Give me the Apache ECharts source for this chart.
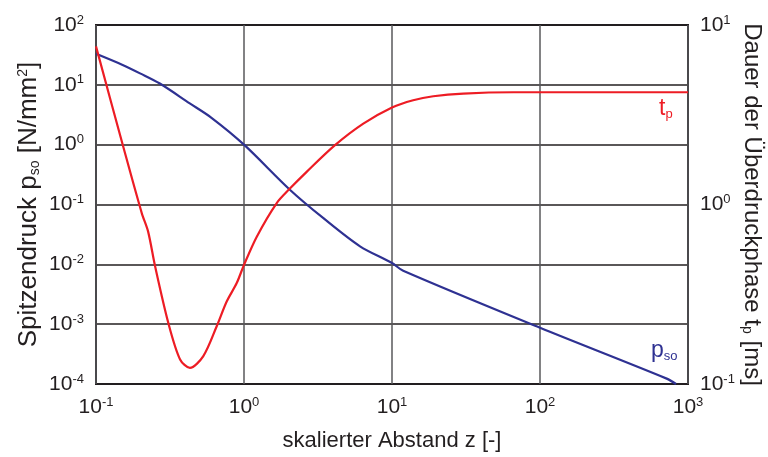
<!DOCTYPE html>
<html><head><meta charset="utf-8">
<script src="https://cdn.jsdelivr.net/npm/echarts@6/dist/echarts.min.js"></script>
<style>html,body{margin:0;padding:0;background:#fff}#c{width:768px;height:457px}</style>
</head><body><div id="c"></div>
<script>
// scaled distance z [-] and peak overpressure p_so [N/mm²]
const zP = [0.1, 0.15, 0.2, 0.27, 0.43, 0.6, 1, 2.05, 3.44, 6.08, 10, 11.9, 100, 718, 830];
const pVals = [33, 21.7, 15.4, 10.5, 4.9, 2.84, 1.0, 0.175, 0.059, 0.02, 0.0105, 0.0078, 0.00087, 0.000123, 0.0001];
// scaled distance z [-] and positive phase duration t_p [ms]
const zT = [0.1, 0.153, 0.204, 0.225, 0.251, 0.308, 0.37, 0.431, 0.531, 0.653, 0.764, 0.893, 1.0, 1.22, 1.66, 2.05, 2.65, 4.12, 6.4, 10, 13.9, 19, 30.3, 66, 1000];
const tVals = [7.6, 2.09, 0.893, 0.706, 0.451, 0.219, 0.137, 0.123, 0.143, 0.209, 0.288, 0.365, 0.461, 0.662, 1.016, 1.23, 1.52, 2.14, 2.82, 3.47, 3.81, 4.01, 4.15, 4.22, 4.22];

const FONT = 'Liberation Sans, Arial, sans-serif';
const TXT = '#231f20';
const expFmt = v => '{b|10}{s|' + Math.round(Math.log10(v)) + '}';
const richTick = {
  b: {fontSize: 21, fontFamily: FONT, color: TXT, lineHeight: 23},
  s: {fontSize: 13, fontFamily: FONT, color: TXT, verticalAlign: 'top', lineHeight: 13}
};
const mkRich = (fs, sfs) => ({
  n: {fontSize: fs, fontFamily: FONT, color: TXT},
  sub: {fontSize: sfs, fontFamily: FONT, color: TXT, verticalAlign: 'bottom', padding: [10, 0, 0, 0]},
  sup: {fontSize: sfs, fontFamily: FONT, color: TXT, verticalAlign: 'top', padding: [0, 0, 10, 0]}
});

const chart = echarts.init(document.getElementById('c'), null, {renderer: 'canvas'});
chart.setOption({
  animation: false,
  grid: {left: 96, right: 80, top: 25, bottom: 73, outerBoundsMode: 'none', containLabel: false,
         show: true, borderColor: '#231f20', borderWidth: 2, backgroundColor: 'transparent'},
  xAxis: {
    type: 'log', logBase: 10, min: 0.1, max: 1000,
    name: 'skalierter Abstand z [-]', nameLocation: 'middle', nameGap: 46, nameMoveOverlap: false,
    nameTextStyle: {fontSize: 22, fontFamily: FONT, color: TXT},
    axisLine: {show: false}, axisTick: {show: false}, minorTick: {show: false},
    axisLabel: {formatter: expFmt, rich: richTick, margin: 12},
    splitLine: {show: true, lineStyle: {color: '#58595b', width: 1.5}}
  },
  yAxis: [{
    type: 'log', logBase: 10, min: 1e-4, max: 100, position: 'left',
    name: '{n|Spitzendruck p}{sub|so}{n| [N/mm}{sup|2}{n|]}', nameLocation: 'middle', nameGap: 54, nameRotate: 90, nameMoveOverlap: false,
    nameTextStyle: {rich: mkRich(26, 14)},
    axisLine: {show: false}, axisTick: {show: false},
    axisLabel: {formatter: expFmt, rich: richTick, margin: 12},
    splitLine: {show: true, lineStyle: {color: '#231f20', width: 1.5}}
  }, {
    type: 'log', logBase: 10, min: 0.1, max: 10, position: 'right',
    name: '{n|Dauer der Überdruckphase t}{sub|p}{n| [ms]}', nameLocation: 'middle', nameGap: 52, nameRotate: -90, nameMoveOverlap: false,
    nameTextStyle: {rich: mkRich(24, 14)},
    axisLine: {show: false}, axisTick: {show: false},
    axisLabel: {formatter: expFmt, rich: richTick, margin: 12},
    splitLine: {show: false}
  }],
  series: [{
    name: 'p_so', type: 'line', yAxisIndex: 0, smooth: 0.3, showSymbol: false,
    lineStyle: {color: '#2e3192', width: 2.2},
    data: zP.map((z, i) => [z, pVals[i]])
  }, {
    name: 't_p', type: 'line', yAxisIndex: 1, smooth: 0.3, showSymbol: false,
    lineStyle: {color: '#ed1c24', width: 2.2},
    data: zT.map((z, i) => [z, tVals[i]])
  }],
  graphic: [{
    type: 'text', left: 659, top: 97,
    style: {rich: {a: {fontSize: 23, fontFamily: FONT, fill: '#ed1c24'}, b: {fontSize: 13, fontFamily: FONT, fill: '#ed1c24', padding: [12, 0, 0, 0], verticalAlign: 'bottom'}}, text: '{a|t}{b|p}'}
  }, {
    type: 'text', left: 651, top: 339,
    style: {rich: {a: {fontSize: 23, fontFamily: FONT, fill: '#2e3192'}, b: {fontSize: 13, fontFamily: FONT, fill: '#2e3192', padding: [12, 0, 0, 0], verticalAlign: 'bottom'}}, text: '{a|p}{b|so}'}
  }]
});
</script></body></html>
